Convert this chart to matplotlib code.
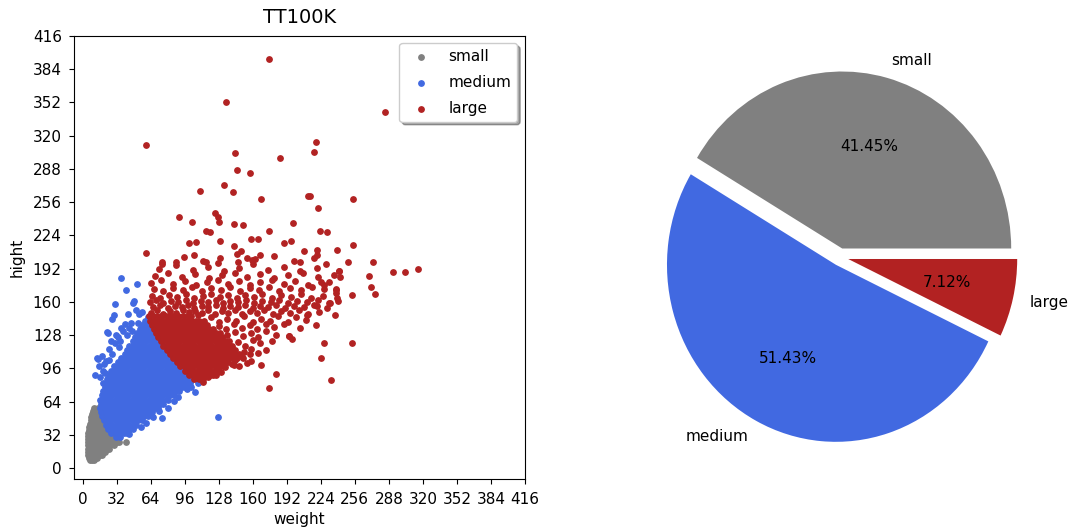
import numpy as np
import matplotlib
matplotlib.use("Agg")
import matplotlib.pyplot as plt

# ---- object sizes (weight x hight, px), dense rows: hight -> list of weights ----
small_rows = {
    58: [11, 14],
    55: [10, 13, 16],
    52: [9, 12, 15, 17],
    49: [8, 11, 14, 17, 19],
    46: [8, 10, 13, 16, 19],
    43: [7, 10, 13, 16, 19, 21],
    40: [6, 9, 12, 15, 18, 21, 23],
    37: [6, 9, 12, 15, 18, 21, 24],
    34: [5, 8, 11, 14, 17, 20, 23, 26],
    31: [5, 8, 11, 14, 17, 20, 23, 26, 29],
    28: [5, 8, 11, 14, 17, 20, 23, 26, 29, 32],
    25: [5, 8, 11, 14, 17, 20, 23, 26, 29, 32, 34],
    22: [5, 8, 11, 14, 17, 20, 23, 26, 29],
    19: [5, 8, 11, 14, 17, 20, 23, 25],
    16: [5, 7, 10, 13, 16, 19, 21],
    13: [5, 7, 10, 13, 16, 18],
    10: [6, 8, 11, 13],
    8: [7, 9, 11],
}
small_extra = [(41, 25)]

medium_rows = {
    30: [31, 35],
    34: [27, 31, 35, 39, 42],
    38: [24, 28, 32, 36, 40, 44, 47],
    42: [22, 26, 30, 34, 38, 42, 46, 50],
    46: [20, 24, 28, 32, 36, 40, 44, 48, 52, 56],
    50: [18, 22, 26, 30, 34, 38, 42, 46, 50, 54, 58, 61],
    54: [17, 21, 25, 29, 33, 37, 41, 45, 49, 53, 57, 61, 65],
    58: [16, 20, 24, 28, 32, 36, 40, 44, 48, 52, 56, 60, 64, 68, 71],
    62: [17, 21, 25, 29, 33, 37, 41, 45, 49, 53, 57, 61, 65, 69, 73, 76],
    66: [16, 20, 24, 28, 32, 36, 40, 44, 48, 52, 56, 60, 64, 68, 72, 76, 80],
    70: [18, 22, 26, 30, 34, 38, 42, 46, 50, 54, 58, 62, 66, 70, 74, 78, 82, 86],
    74: [19, 23, 27, 31, 35, 39, 43, 47, 51, 55, 59, 63, 67, 71, 75, 79, 83, 87, 91],
    78: [21, 25, 29, 33, 37, 41, 45, 49, 53, 57, 61, 65, 69, 73, 77, 81, 85, 89, 93, 96],
    82: [22, 26, 30, 34, 38, 42, 46, 50, 54, 58, 62, 66, 70, 74, 78, 82, 86, 90, 94, 98, 101],
    86: [23, 27, 31, 35, 39, 43, 47, 51, 55, 59, 63, 67, 71, 75, 79, 83, 87, 91, 95, 99, 103],
    90: [25, 29, 33, 37, 41, 45, 49, 53, 57, 61, 65, 69, 73, 77, 81, 85, 89, 93, 97, 99],
    94: [27, 31, 35, 39, 43, 47, 51, 55, 59, 63, 67, 71, 75, 79, 83, 87, 91, 95],
    98: [29, 33, 37, 41, 45, 49, 53, 57, 61, 65, 69, 73, 77, 81, 85, 89, 91],
    102: [33, 37, 41, 45, 49, 53, 57, 61, 65, 69, 73, 77, 81, 85, 87],
    106: [36, 40, 44, 48, 52, 56, 60, 64, 68, 72, 76, 80, 84],
    110: [40, 44, 48, 52, 56, 60, 64, 68, 72, 76, 80],
    114: [42, 46, 50, 54, 58, 62, 66, 70, 74, 78],
    118: [44, 48, 52, 56, 60, 64, 68, 72, 76],
    122: [47, 51, 55, 59, 63, 67, 71, 73],
    126: [49, 53, 57, 61, 65, 69, 71],
    130: [51, 55, 59, 63, 67],
    134: [54, 58, 62, 66],
    138: [56, 60, 64],
    142: [59, 62],
    145: [61],
}
medium_extra = [
    (36, 183), (41, 171), (51, 177), (48, 161), (30, 158), (47, 159), (28, 144),
    (29, 147), (40, 139), (43, 148), (53, 148), (23, 131), (31, 128), (34, 117),
    (13, 106), (18, 108), (22, 103), (19, 82), (14, 105), (19, 94), (28, 110),
    (42, 128), (33, 126), (24, 130), (106, 73), (127, 49), (75, 48), (12, 90),
    (16, 88), (25, 115), (35, 122), (38, 132), (45, 140), (50, 152), (56, 150),
    (20, 100), (25, 104), (30, 120), (44, 135), (36, 135), (27, 122), (21, 92),
    (15, 98), (46, 132), (52, 140), (60, 44), (72, 55), (86, 65), (98, 76),
    (55, 40), (44, 33), (90, 69), (80, 58), (66, 49), (108, 82), (102, 78),
]

large_rows = {
    86: [105, 109, 113],
    90: [100, 104, 108, 112, 116, 120, 123],
    94: [96, 100, 104, 108, 112, 116, 120, 124, 128],
    98: [92, 96, 100, 104, 108, 112, 116, 120, 124, 128, 132],
    102: [89, 93, 97, 101, 105, 109, 113, 117, 121, 125, 129, 133, 137],
    106: [85, 89, 93, 97, 101, 105, 109, 113, 117, 121, 125, 129, 133, 137, 141, 145],
    110: [82, 86, 90, 94, 98, 102, 106, 110, 114, 118, 122, 126, 130, 134, 138, 142, 147],
    114: [79, 83, 87, 91, 95, 99, 103, 107, 111, 115, 119, 123, 127, 131, 135, 139, 143],
    118: [76, 80, 84, 88, 92, 96, 100, 104, 108, 112, 116, 120, 124, 128, 132, 136, 140],
    122: [74, 78, 82, 86, 90, 94, 98, 102, 106, 110, 114, 118, 122, 126, 130, 134, 138],
    126: [71, 75, 79, 83, 87, 91, 95, 99, 103, 107, 111, 115, 119, 123, 127, 131],
    130: [69, 73, 77, 81, 85, 89, 93, 97, 101, 105, 109, 113, 117, 121, 125, 129],
    134: [67, 71, 75, 79, 83, 87, 91, 95, 99, 103, 107, 111, 115, 119, 123],
    138: [65, 69, 73, 77, 81, 85, 89, 93, 97, 101, 105, 109, 113, 117],
    142: [63, 67, 71, 75, 79, 83, 87, 91, 95, 99, 103, 107, 109],
    146: [62, 66, 70, 74, 78, 82, 86, 90, 94, 98],
}
large_extra = [
    # around the dense core
    (113, 83), (118, 88), (125, 90), (130, 93), (142, 99), (149, 108), (157, 110),
    (134, 97), (140, 100), (147, 98), (155, 101), (143, 104), (151, 106),
    (158, 103), (152, 112), (158, 115), (165, 111), (172, 114), (146, 121),
    (153, 118), (160, 123), (167, 120), (178, 122), (136, 128), (143, 131),
    (151, 127), (158, 130), (165, 126), (172, 132), (182, 128), (194, 127),
    (128, 137), (135, 134), (142, 139), (150, 135), (157, 138), (164, 134),
    (172, 139), (180, 136), (189, 139), (204, 135), (114, 142), (121, 145),
    (128, 141), (136, 144), (144, 142), (152, 146), (160, 141), (168, 144),
    (176, 142), (184, 146), (193, 141), (201, 145), (210, 143), (102, 146), (108, 147),
    # band above the core
    (64, 149), (70, 152), (76, 148), (82, 151), (88, 149), (94, 152), (100, 150),
    (106, 151), (112, 149), (118, 152), (124, 148), (131, 151), (137, 149),
    (143, 152), (150, 148), (157, 151), (164, 149), (171, 152), (179, 148),
    (187, 151), (195, 149), (203, 152), (212, 148), (222, 150),
    (66, 155), (73, 157), (80, 154), (87, 156), (93, 155), (99, 157), (105, 154),
    (112, 156), (118, 155), (125, 157), (132, 154), (139, 156), (146, 155),
    (153, 157), (160, 154), (167, 156), (174, 155), (182, 157), (190, 154),
    (199, 156), (208, 155), (218, 157), (230, 154),
    (63, 160), (69, 162), (76, 159), (83, 161), (90, 160), (97, 162), (104, 159),
    (111, 161), (118, 160), (125, 162), (132, 159), (139, 161), (146, 160),
    (154, 162), (161, 159), (169, 161), (177, 160), (185, 162), (193, 159),
    (202, 161), (211, 160), (221, 162), (232, 159), (240, 161),
    (65, 166), (73, 164), (81, 167), (89, 165), (97, 168), (105, 164), (113, 166),
    (121, 168), (129, 165), (137, 167), (145, 164), (153, 167), (161, 165),
    (169, 168), (178, 164), (187, 167), (196, 165), (205, 168), (215, 164),
    (226, 166), (238, 169), (253, 167),
    (67, 172), (76, 170), (85, 173), (94, 171), (103, 174), (112, 170), (121, 173),
    (130, 171), (139, 174), (148, 170), (157, 173), (166, 171), (175, 174),
    (185, 170), (195, 173), (205, 171), (216, 174), (227, 172), (238, 171),
    (64, 178), (74, 181), (85, 177), (96, 180), (107, 176), (117, 179), (127, 181),
    (137, 177), (147, 180), (157, 176), (167, 179), (178, 181), (189, 177),
    (200, 180), (212, 176), (224, 179), (232, 179),
    (68, 185), (80, 188), (93, 184), (106, 187), (119, 183), (131, 186), (143, 188),
    (155, 184), (167, 187), (180, 183), (193, 186), (207, 188), (221, 184),
    (236, 186), (242, 184),
    (72, 192), (88, 195), (104, 191), (118, 194), (133, 190), (147, 193),
    (160, 196), (174, 191), (189, 194), (204, 190), (220, 193), (241, 190),
    (75, 198), (95, 203), (113, 199), (129, 202), (146, 198), (162, 201),
    (180, 204), (199, 199), (218, 202),
    # outliers
    (175, 394), (135, 352), (284, 343), (60, 311), (219, 314), (218, 304),
    (143, 303), (186, 298), (145, 287), (157, 284), (133, 272), (110, 267),
    (141, 266), (212, 262), (214, 262), (168, 259), (254, 259), (221, 250),
    (124, 245), (127, 242), (91, 242), (103, 237), (128, 237), (142, 235),
    (151, 234), (198, 236), (116, 228), (120, 227), (175, 228), (223, 228),
    (230, 227), (100, 217), (107, 218), (129, 219), (158, 220), (165, 220),
    (189, 217), (196, 219), (254, 215), (60, 207), (142, 214), (149, 209),
    (145, 206), (105, 205), (208, 209), (220, 210), (220, 205), (239, 210),
    (167, 205), (155, 202), (159, 200), (116, 198), (127, 197), (88, 198),
    (75, 196), (204, 198), (250, 198), (273, 198), (229, 196), (292, 189),
    (303, 189), (315, 192), (269, 185), (271, 174), (275, 168), (239, 164),
    (241, 190), (227, 176), (238, 172), (233, 159), (237, 147), (253, 120),
    (227, 120), (224, 106), (234, 85), (182, 91), (168, 99), (175, 77),
    (197, 124), (194, 127), (219, 138), (211, 147), (220, 156),
]

labels = ["small", "medium", "large"]
colors = ["grey", "royalblue", "firebrick"]
shares = [41.45, 51.43, 7.12]


def unpack(rows, extra):
    w = [x for ws in rows.values() for x in ws] + [p[0] for p in extra]
    h = [y for y, ws in rows.items() for _ in ws] + [p[1] for p in extra]
    return np.array(w), np.array(h)


small_w, small_h = unpack(small_rows, small_extra)
medium_w, medium_h = unpack(medium_rows, medium_extra)
large_w, large_h = unpack(large_rows, large_extra)

fig = plt.figure(figsize=(10.72, 5.31), dpi=100)

# scatter of object sizes
ax1 = fig.add_axes([0.0693, 0.0974, 0.4204, 0.8354])
for w, h, lab, col in zip([small_w, medium_w, large_w], [small_h, medium_h, large_h], labels, colors):
    ax1.scatter(w, h, s=15, c=col, label=lab)
ax1.set_xlim(-7.9, 416)
ax1.set_ylim(-10.6, 416)
ax1.set_xticks(np.arange(0, 417, 32))
ax1.set_yticks(np.arange(0, 417, 32))
ax1.tick_params(labelsize=11, pad=5.5)
ax1.set_xlabel("weight", fontsize=11)
ax1.set_ylabel("hight", fontsize=11, labelpad=6)
ax1.set_title("TT100K", fontsize=14, pad=9)
ax1.legend(loc="upper right", shadow=True, fontsize=11, labelspacing=0.7)

# share of each size class
ax2 = fig.add_axes([0.5865, 0.0993, 0.3941, 0.8333])
ax2.pie(shares, labels=labels, colors=colors, autopct="%.2f%%",
        explode=(0.05, 0.05, 0.05), textprops={"fontsize": 11})
ax2.set_aspect("auto")
ax2.set_xlim(-1.25, 1.25)
ax2.set_ylim(-1.25, 1.25)

fig.savefig("out.png", dpi=100)
